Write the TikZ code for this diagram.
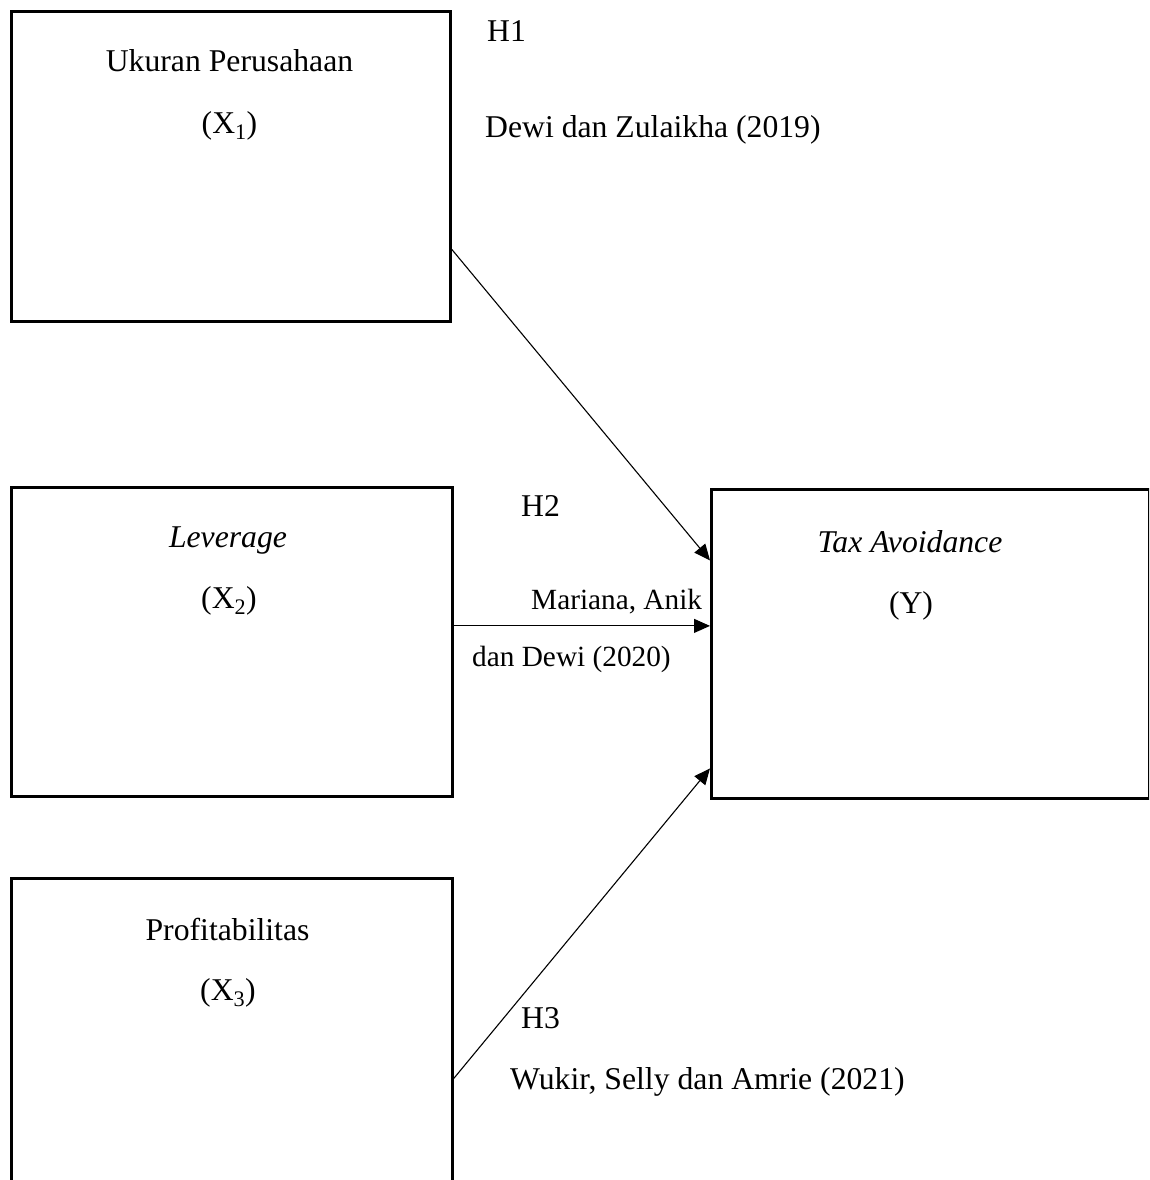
\documentclass[tikz,border=0pt]{standalone}
\usepackage{fontspec}
\setmainfont{Liberation Serif}
\usetikzlibrary{arrows.meta}
\begin{document}
\begin{tikzpicture}[x=1pt,y=-1pt,
  box/.style={draw, line width=2.8pt, inner sep=0pt, anchor=north west},
  txt/.style={inner sep=0pt, font=\fontsize{31.7pt}{38pt}\selectfont},
  stxt/.style={inner sep=0pt, anchor=base west, font=\fontsize{29.3pt}{35pt}\selectfont},
  ctxt/.style={txt, anchor=base},
  ltxt/.style={txt, anchor=base west},
  arr/.style={line width=1.1pt, -{Triangle[length=16pt,width=14pt]}}]
\useasboundingbox (0,0) rectangle (1149,1180);
\clip (0,0) rectangle (1149,1180);
% boxes
\node[box, minimum width=439pt, minimum height=310pt] (x1) at (10,10) {};
\node[box, minimum width=441pt, minimum height=309pt] (x2) at (10,486) {};
\node[box, minimum width=441pt, minimum height=400pt] (x3) at (10,877) {};
\node[box, minimum width=438pt, minimum height=309pt] (y) at (710,488) {};
% box texts
\node[ctxt] (t1a) at (229.5,72) {Ukuran Perusahaan};
\node[ctxt] (t1b) at (229.5,133) {(X\textsubscript{1})};
\node[ctxt] (t2a) at (228,547) {\itshape Leverage};
\node[ctxt] (t2b) at (229,608) {(X\textsubscript{2})};
\node[ctxt] (t3a) at (227.5,940) {Profitabilitas};
\node[ctxt] (t3b) at (228,1000) {(X\textsubscript{3})};
\node[ctxt] (tya) at (910,552) {\itshape Tax Avoidance};
\node[ctxt] (tyb) at (911,613) {(Y)};
% hypothesis labels
\node[ltxt] (h1) at (487,42) {H1};
\node[ltxt] (h1r) at (485,138) {Dewi dan Zulaikha (2019)};
\node[ltxt] (h2) at (521,516) {H2};
\node[stxt] (h2ra) at (531,609) {Mariana, Anik};
\node[stxt] (h2rb) at (472,666) {dan Dewi (2020)};
\node[ltxt] (h3) at (521,1028) {H3};
\node[ltxt] (h3r) at (510,1089) {Wukir, Selly dan Amrie (2021)};
% connectors
\draw[arr] ([yshift=-83pt]x1.east) -- ([yshift=83.5pt]y.west);
\draw[arr] ([yshift=16pt]x2.east) -- ([yshift=16pt]x2.east -| y.west);
\draw[arr] (x3.east) -- ([yshift=-124.5pt]y.west);
\end{tikzpicture}
\end{document}
